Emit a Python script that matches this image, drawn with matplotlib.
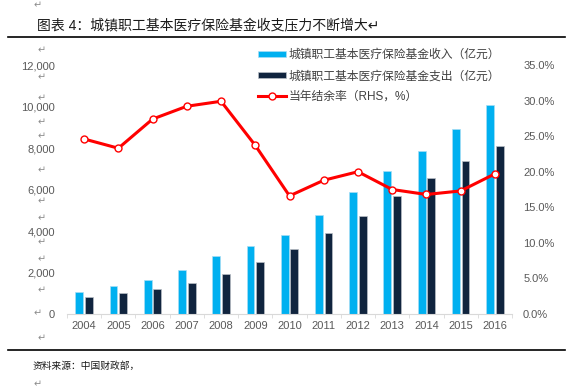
import numpy as np
import matplotlib
matplotlib.use("Agg")
import matplotlib.pyplot as plt
from matplotlib.lines import Line2D
from matplotlib.ticker import FuncFormatter

plt.rcParams['font.family'] = ['Liberation Sans', 'Noto Sans CJK SC', 'DejaVu Sans']

years = ["2004", "2005", "2006", "2007", "2008", "2009", "2010",
         "2011", "2012", "2013", "2014", "2015", "2016"]
income = [1060, 1330, 1650, 2100, 2780, 3290, 3790,
          4770, 5890, 6880, 7860, 8930, 10090]
expense = [800, 1010, 1190, 1480, 1930, 2490, 3150,
           3890, 4720, 5670, 6540, 7390, 8080]
surplus = [24.6, 23.3, 27.4, 29.2, 29.9, 23.7, 16.6,
           18.8, 20.0, 17.5, 16.8, 17.3, 19.7]

lbl_in = "城镇职工基本医疗保险基金收入（亿元）"
lbl_out = "城镇职工基本医疗保险基金支出（亿元）"
lbl_rate = "当年结余率（RHS，%）"

W, H = 572, 390
fig = plt.figure(figsize=(W / 100, H / 100), dpi=100)
ax = fig.add_axes([67 / W, 1 - 314 / H, 445 / W, 249 / H])
ax2 = ax.twinx()

x = np.arange(len(years))
bw = 0.23
b1 = ax.bar(x - 0.14, income, bw, color="#00B0F0", edgecolor="#A6DDF5", linewidth=0.5, label=lbl_in)
b2 = ax.bar(x + 0.14, expense, bw, color="#10243E", edgecolor="#B8BEC6", linewidth=0.5, label=lbl_out)
l1, = ax2.plot(x, surplus, color="#FF0000", lw=2.2, marker="o", ms=5,
               mfc="white", mec="#FF0000", mew=1, label=lbl_rate)

ax.set_xlim(-0.5, len(years) - 0.5)
ax.set_ylim(0, 12000)
ax2.set_ylim(0, 35)
ax.set_yticks(np.arange(0, 12001, 2000))
ax2.set_yticks(np.arange(0, 35.1, 5))
ax.yaxis.set_major_formatter(FuncFormatter(lambda v, p: f"{v:,.0f}"))
ax2.yaxis.set_major_formatter(FuncFormatter(lambda v, p: f"{v:.1f}%"))

ax.set_xticks(x)
ax.set_xticklabels(years)
ax.set_xticks(np.arange(-0.5, len(years)), minor=True)
ax.tick_params(axis="x", which="major", length=0, pad=5, labelsize=8, labelcolor="#595959")
ax.tick_params(axis="x", which="minor", length=3, color="#D9D9D9")
ax.tick_params(axis="y", length=0, pad=8.5, labelsize=8, labelcolor="#595959")
ax2.tick_params(axis="y", length=0, pad=8, labelsize=8, labelcolor="#595959")

for a in (ax, ax2):
    for s in ["top", "left", "right"]:
        a.spines[s].set_visible(False)
ax.spines["bottom"].set_color("#D9D9D9")
ax2.spines["bottom"].set_visible(False)

leg = ax.legend([b1, b2, l1], [lbl_in, lbl_out, lbl_rate], loc="upper left",
                bbox_to_anchor=(0.418, 1.082), frameon=False, fontsize=8.5,
                handlelength=2.4, handleheight=0.5, handletextpad=0.2,
                labelspacing=0.75, borderaxespad=0)
for t in leg.get_texts():
    t.set_color("#404040")

# title and rules
fig.text(37 / W, 1 - 25 / H, "图表 4：城镇职工基本医疗保险基金收支压力不断增大↵",
         fontsize=10, va="center", ha="left", color="#1a1a1a")
fig.add_artist(Line2D([8 / W, 565 / W], [1 - 37 / H, 1 - 37 / H], color="black", lw=1.2))
fig.add_artist(Line2D([8 / W, 565 / W], [1 - 350 / H, 1 - 350 / H], color="black", lw=1.2))
fig.text(33 / W, 1 - 366 / H, "资料来源：中国财政部，", fontsize=7, style="italic",
         va="center", ha="left", color="#1a1a1a")

# paragraph marks (word artefacts), nudged off the tick labels
marks_y = [50, 77, 98, 122, 136, 170, 201, 218, 242, 259, 290, 338]
for yy in marks_y:
    fig.text(42 / W, 1 - yy / H, "↵", fontsize=7, color="#8c8c8c", va="center", ha="center")
fig.text(38 / W, 1 - 313 / H, "↵", fontsize=7, color="#8c8c8c", va="center", ha="center")
fig.text(38 / W, 1 - 5 / H, "↵", fontsize=7, color="#8c8c8c", va="center", ha="center")
fig.text(38 / W, 1 - 384 / H, "↵", fontsize=7, color="#8c8c8c", va="center", ha="center")

fig.savefig("out.png", dpi=100)
